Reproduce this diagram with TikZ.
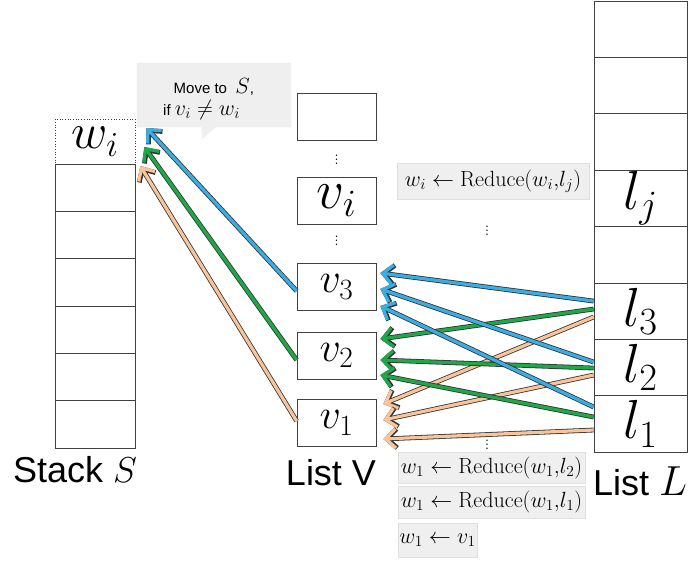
\RequirePackage{fix-cm}
\documentclass[tikz,border=0pt]{standalone}
\usepackage{fontspec}
\setsansfont{Liberation Sans}
\usetikzlibrary{arrows.meta}
\definecolor{flowblue}{RGB}{58,174,227}
\definecolor{flowgreen}{RGB}{30,168,74}
\definecolor{floworange}{RGB}{248,196,155}
\definecolor{notegray}{RGB}{239,239,239}
\begin{document}
\begin{tikzpicture}[x = 1pt, y = -1pt,
  cell/.style = {draw = black!75, line width = 0.7pt, minimum width = 80pt, minimum height = 47.33pt, inner sep = 0pt},
  vbox/.style = {draw = black!75, line width = 0.7pt, minimum width = 79pt, minimum height = 47pt, inner sep = 0pt},
  lcell/.style = {draw = black!75, line width = 0.7pt, minimum width = 93pt, minimum height = 56.375pt, inner sep = 0pt},
  redbox/.style = {fill = notegray, draw = black!12, inner sep = 0pt, font = \fontsize{22}{25}\selectfont},
  caption/.style = {font = \fontsize{36}{40}\selectfont\sffamily, anchor = base, inner sep = 0pt},
  dots/.style = {font = \fontsize{18}{18}\selectfont, inner sep = 0pt},
  flow/.style = {draw = #1, line width = 3.2pt, -{Straight Barb[length = 10pt, width = 19pt]},
    preaction = {draw = black!80, line width = 4.8pt, -{Straight Barb[length = 10pt, width = 19pt]}}}]
\useasboundingbox (0,0) rectangle (696,563);
\node[cell, dotted, minimum height = 45pt] (wi) at (95,141.5) {\fontsize{50}{50}\selectfont$w_i$};
\foreach \i in {1,...,6}
  \node[cell] (s\i) at (95,{140.33+47.33*\i}) {};
\node[caption] (capS) at (75,482) {Stack $S$};
\node[vbox] (vtop) at (336.5,116.5) {};
\node[dots] (vd1) at (336.5,157) {$\vdots$};
\node[vbox] (vi) at (336.5,200.5) {\fontsize{55}{55}\selectfont$v_i$};
\node[dots] (vd2) at (336.5,238) {$\vdots$};
\node[vbox] (v3) at (336.5,287) {\fontsize{42}{42}\selectfont$v_3$};
\node[vbox] (v2) at (336.5,355.5) {\fontsize{42}{42}\selectfont$v_2$};
\node[vbox] (v1) at (336.5,423) {\fontsize{42}{42}\selectfont$v_1$};
\node[caption] (capV) at (331,485) {List V};
\foreach \r/\lab in {1/{},2/{},3/{},4/{$l_j$},5/{},6/{$l_3$},7/{$l_2$},8/{$l_1$}}
  \node[lcell] (L\r) at (640.5,{1+56.375*(\r-0.5)}) {\fontsize{55}{55}\selectfont\lab};
\node[caption] (capL) at (640,495) {List {\fontsize{42}{42}\selectfont$L$}};
\node[redbox, minimum width = 192pt, minimum height = 36pt] (rj) at (493,181) {$w_i\leftarrow\mathrm{Reduce}(w_i{,}l_j)$};
\node[dots] (rd1) at (487,228) {$\vdots$};
\node[dots] (rd2) at (487,442) {$\vdots$};
\node[redbox, minimum width = 187pt, minimum height = 31pt] (r2) at (491.5,467.5) {$w_1\leftarrow\mathrm{Reduce}(w_1{,}l_2)$};
\node[redbox, minimum width = 187pt, minimum height = 32pt] (r1) at (491.5,502) {$w_1\leftarrow\mathrm{Reduce}(w_1{,}l_1)$};
\node[redbox, minimum width = 79pt, minimum height = 34pt] (r0) at (437.5,540) {$w_1\leftarrow v_1$};
\filldraw[fill = notegray, draw = black!8] (137,63) -- (291,63) -- (291,127) -- (215,127) -- (202,139) -- (202,127) -- (137,127) -- cycle;
\node[anchor = west, align = left, inner sep = 0pt, font = \fontsize{15}{22}\selectfont\sffamily] (note) at (163,99)
  {\hspace{0.7em}Move to\ \ {\fontsize{22}{22}\selectfont$S$},\\ if {\fontsize{22}{22}\selectfont$v_i\neq w_i$}};
\draw[flow = floworange] ([yshift = -5.9pt]L6.west) -- ([xshift = 7pt, yshift = 19pt]v1.east);
\draw[flow = floworange] ([yshift = -7.6pt]L7.west) -- ([xshift = 7pt, yshift = 3pt]v1.east);
\draw[flow = floworange] ([yshift = -6.2pt]L8.west) -- ([xshift = 7pt, yshift = -16pt]v1.east);
\draw[flow = flowgreen] ([yshift = 2pt]L6.west) -- ([xshift = 4pt, yshift = 16.5pt]v2.east);
\draw[flow = flowgreen] ([yshift = -0.6pt]L7.west) -- ([xshift = 4pt, yshift = -4.5pt]v2.east);
\draw[flow = flowgreen] ([yshift = 6.8pt]L8.west) -- ([xshift = 4pt, yshift = -19.5pt]v2.east);
\draw[flow = flowblue] ([yshift = 10pt]L6.west) -- ([xshift = 4pt, yshift = 14pt]v3.east);
\draw[flow = flowblue] ([yshift = 5.4pt]L7.west) -- ([xshift = 4pt, yshift = -2pt]v3.east);
\draw[flow = flowblue] ([yshift = 16.8pt]L8.west) -- ([xshift = 4pt, yshift = -19pt]v3.east);
\draw[flow = floworange] ([yshift = 2pt]v1.west) -- ([xshift = 5pt, yshift = -24.5pt]wi.east);
\draw[flow = flowgreen] ([yshift = -4.5pt]v2.west) -- ([xshift = 9pt, yshift = -5.5pt]wi.east);
\draw[flow = flowblue] ([yshift = -4pt]v3.west) -- ([xshift = 11pt, yshift = 13.5pt]wi.east);
\end{tikzpicture}
\end{document}
